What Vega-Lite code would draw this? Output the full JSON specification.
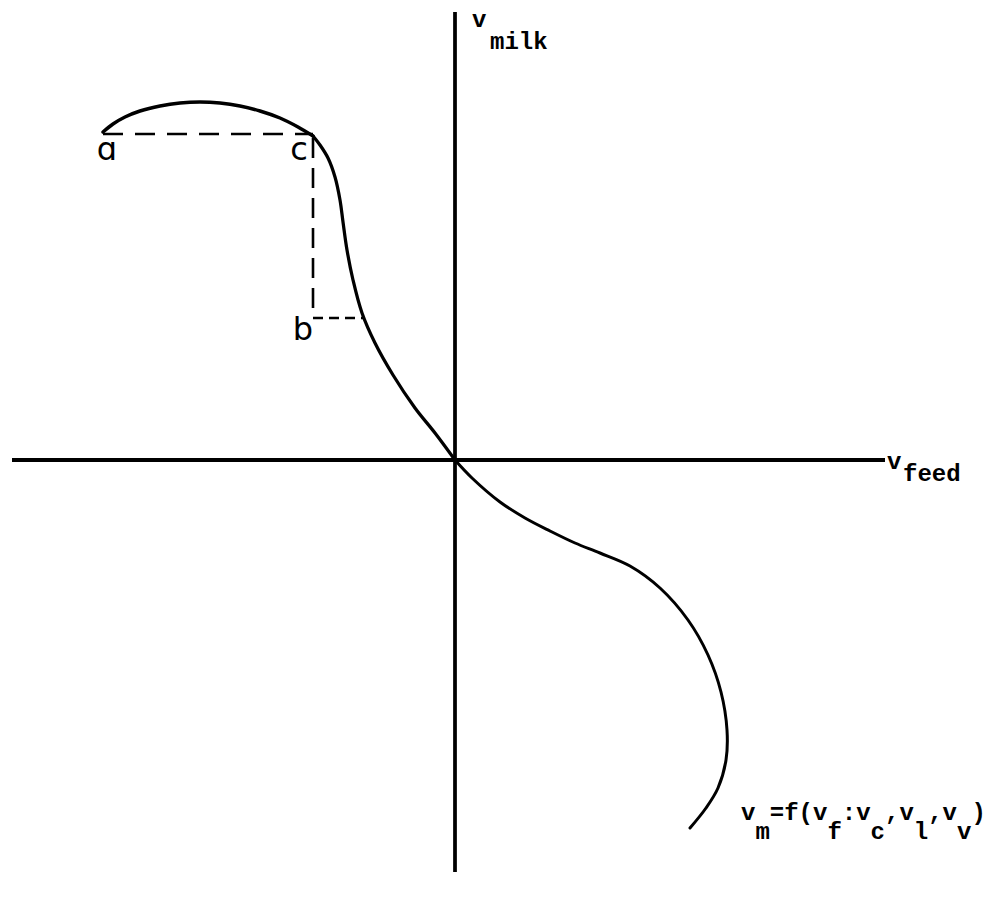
{
  "$schema": "https://vega.github.io/schema/vega-lite/v6.json",
  "width": 1001,
  "height": 898,
  "autosize": {"type": "fit", "contains": "padding"},
  "padding": 0,
  "background": "white",
  "config": {"view": {"stroke": null}},
  "datasets": {
    "axes": [
      {"axis": "feed", "x": -443, "x2": 430, "y": 0, "y2": 0},
      {"axis": "milk", "x": 0, "x2": 0, "y": 448, "y2": -412}
    ],
    "guides": [
      {"guide": "a-c", "x": -352, "x2": -142, "y": 326, "y2": 326},
      {"guide": "c-b", "x": -142, "x2": -142, "y": 322, "y2": 142},
      {"guide": "b", "x": -142, "x2": -92, "y": 142, "y2": 142}
    ],
    "curve": [
      {"part": "arc", "i": 1, "vf": -352, "vm": 328},
      {"part": "arc", "i": 2, "vf": -342, "vm": 336},
      {"part": "arc", "i": 3, "vf": -330, "vm": 343},
      {"part": "arc", "i": 4, "vf": -315, "vm": 349},
      {"part": "arc", "i": 5, "vf": -295, "vm": 354},
      {"part": "arc", "i": 6, "vf": -275, "vm": 357},
      {"part": "arc", "i": 7, "vf": -255, "vm": 358},
      {"part": "arc", "i": 8, "vf": -235, "vm": 357},
      {"part": "arc", "i": 9, "vf": -215, "vm": 354},
      {"part": "arc", "i": 10, "vf": -195, "vm": 349},
      {"part": "arc", "i": 11, "vf": -175, "vm": 342},
      {"part": "arc", "i": 12, "vf": -157, "vm": 333},
      {"part": "arc", "i": 13, "vf": -142, "vm": 324},
      {"part": "fall", "i": 13, "vf": -142, "vm": 324},
      {"part": "fall", "i": 14, "vf": -135, "vm": 315},
      {"part": "fall", "i": 15, "vf": -127, "vm": 302},
      {"part": "fall", "i": 16, "vf": -120, "vm": 283},
      {"part": "fall", "i": 17, "vf": -115, "vm": 260},
      {"part": "fall", "i": 18, "vf": -112, "vm": 238},
      {"part": "fall", "i": 19, "vf": -108, "vm": 210},
      {"part": "fall", "i": 20, "vf": -102, "vm": 180},
      {"part": "fall", "i": 21, "vf": -93, "vm": 147},
      {"part": "fall", "i": 22, "vf": -80, "vm": 117},
      {"part": "fall", "i": 23, "vf": -62, "vm": 85},
      {"part": "fall", "i": 24, "vf": -40, "vm": 52},
      {"part": "fall", "i": 25, "vf": -20, "vm": 27},
      {"part": "fall", "i": 26, "vf": 0, "vm": 0},
      {"part": "tail", "i": 26, "vf": 0, "vm": 0},
      {"part": "tail", "i": 27, "vf": 17, "vm": -18},
      {"part": "tail", "i": 28, "vf": 45, "vm": -42},
      {"part": "tail", "i": 29, "vf": 70, "vm": -58},
      {"part": "tail", "i": 30, "vf": 95, "vm": -71},
      {"part": "tail", "i": 31, "vf": 120, "vm": -83},
      {"part": "tail", "i": 32, "vf": 145, "vm": -93},
      {"part": "tail", "i": 33, "vf": 175, "vm": -106},
      {"part": "tail", "i": 34, "vf": 205, "vm": -128},
      {"part": "tail", "i": 35, "vf": 233, "vm": -160},
      {"part": "tail", "i": 36, "vf": 253, "vm": -195},
      {"part": "tail", "i": 37, "vf": 266, "vm": -232},
      {"part": "tail", "i": 38, "vf": 272, "vm": -270},
      {"part": "tail", "i": 39, "vf": 271, "vm": -300},
      {"part": "tail", "i": 40, "vf": 263, "vm": -328},
      {"part": "tail", "i": 41, "vf": 251, "vm": -348},
      {"part": "tail", "i": 42, "vf": 235, "vm": -368}
    ],
    "letters": [
      {"label": "ɑ", "x": -348, "y": 310},
      {"label": "c", "x": -156, "y": 310},
      {"label": "b", "x": -152, "y": 130}
    ],
    "typed": [
      {"label": "v", "x": 17, "y": 440},
      {"label": "milk", "x": 35, "y": 418},
      {"label": "v", "x": 432, "y": -2},
      {"label": "feed", "x": 448, "y": -14},
      {"label": "v", "x": 286, "y": -353},
      {"label": "m", "x": 300.4, "y": -372},
      {"label": "=f(v", "x": 314.8, "y": -353},
      {"label": "f", "x": 372.4, "y": -372},
      {"label": ":v", "x": 386.8, "y": -353},
      {"label": "c", "x": 415.6, "y": -372},
      {"label": ",v", "x": 430, "y": -353},
      {"label": "l", "x": 458.8, "y": -372},
      {"label": ",v", "x": 473.2, "y": -353},
      {"label": "v", "x": 502, "y": -372},
      {"label": ")", "x": 516.4, "y": -353}
    ]
  },
  "layer": [
    {
      "data": {"name": "axes"},
      "mark": {"type": "rule", "color": "black", "strokeCap": "butt"},
      "encoding": {
        "x": {"field": "x", "type": "quantitative", "scale": {"domain": [-455, 546], "nice": false, "zero": false}, "axis": null},
        "x2": {"field": "x2"},
        "y": {"field": "y", "type": "quantitative", "scale": {"domain": [-438, 460], "nice": false, "zero": false}, "axis": null},
        "y2": {"field": "y2"},
        "strokeWidth": {"field": "axis", "type": "nominal", "scale": {"domain": ["feed", "milk"], "range": [4, 3]}, "legend": null}
      }
    },
    {
      "data": {"name": "guides"},
      "mark": {"type": "rule", "color": "black", "strokeWidth": 2.6, "strokeCap": "butt"},
      "encoding": {
        "x": {"field": "x", "type": "quantitative"},
        "x2": {"field": "x2"},
        "y": {"field": "y", "type": "quantitative"},
        "y2": {"field": "y2"},
        "strokeDash": {"field": "guide", "type": "nominal", "scale": {"domain": ["a-c", "c-b", "b"], "range": [[20, 12], [20, 10], [10, 6]]}, "legend": null}
      }
    },
    {
      "data": {"name": "curve"},
      "mark": {"type": "line", "color": "black", "interpolate": "catmull-rom", "strokeCap": "round", "strokeJoin": "round"},
      "encoding": {
        "x": {"field": "vf", "type": "quantitative"},
        "y": {"field": "vm", "type": "quantitative"},
        "order": {"field": "i", "type": "quantitative"},
        "detail": {"field": "part", "type": "nominal"},
        "strokeWidth": {"field": "part", "type": "nominal", "scale": {"domain": ["arc", "fall", "tail"], "range": [3.6, 2.4, 2.2]}, "legend": null}
      }
    },
    {
      "data": {"name": "letters"},
      "mark": {"type": "text", "font": "DejaVu Sans", "fontSize": 32, "align": "center", "baseline": "middle", "color": "black"},
      "encoding": {
        "x": {"field": "x", "type": "quantitative"},
        "y": {"field": "y", "type": "quantitative"},
        "text": {"field": "label"}
      }
    },
    {
      "data": {"name": "typed"},
      "mark": {"type": "text", "font": "Liberation Mono", "fontWeight": "bold", "fontSize": 24, "align": "left", "baseline": "middle", "color": "black"},
      "encoding": {
        "x": {"field": "x", "type": "quantitative"},
        "y": {"field": "y", "type": "quantitative"},
        "text": {"field": "label"}
      }
    }
  ]
}
